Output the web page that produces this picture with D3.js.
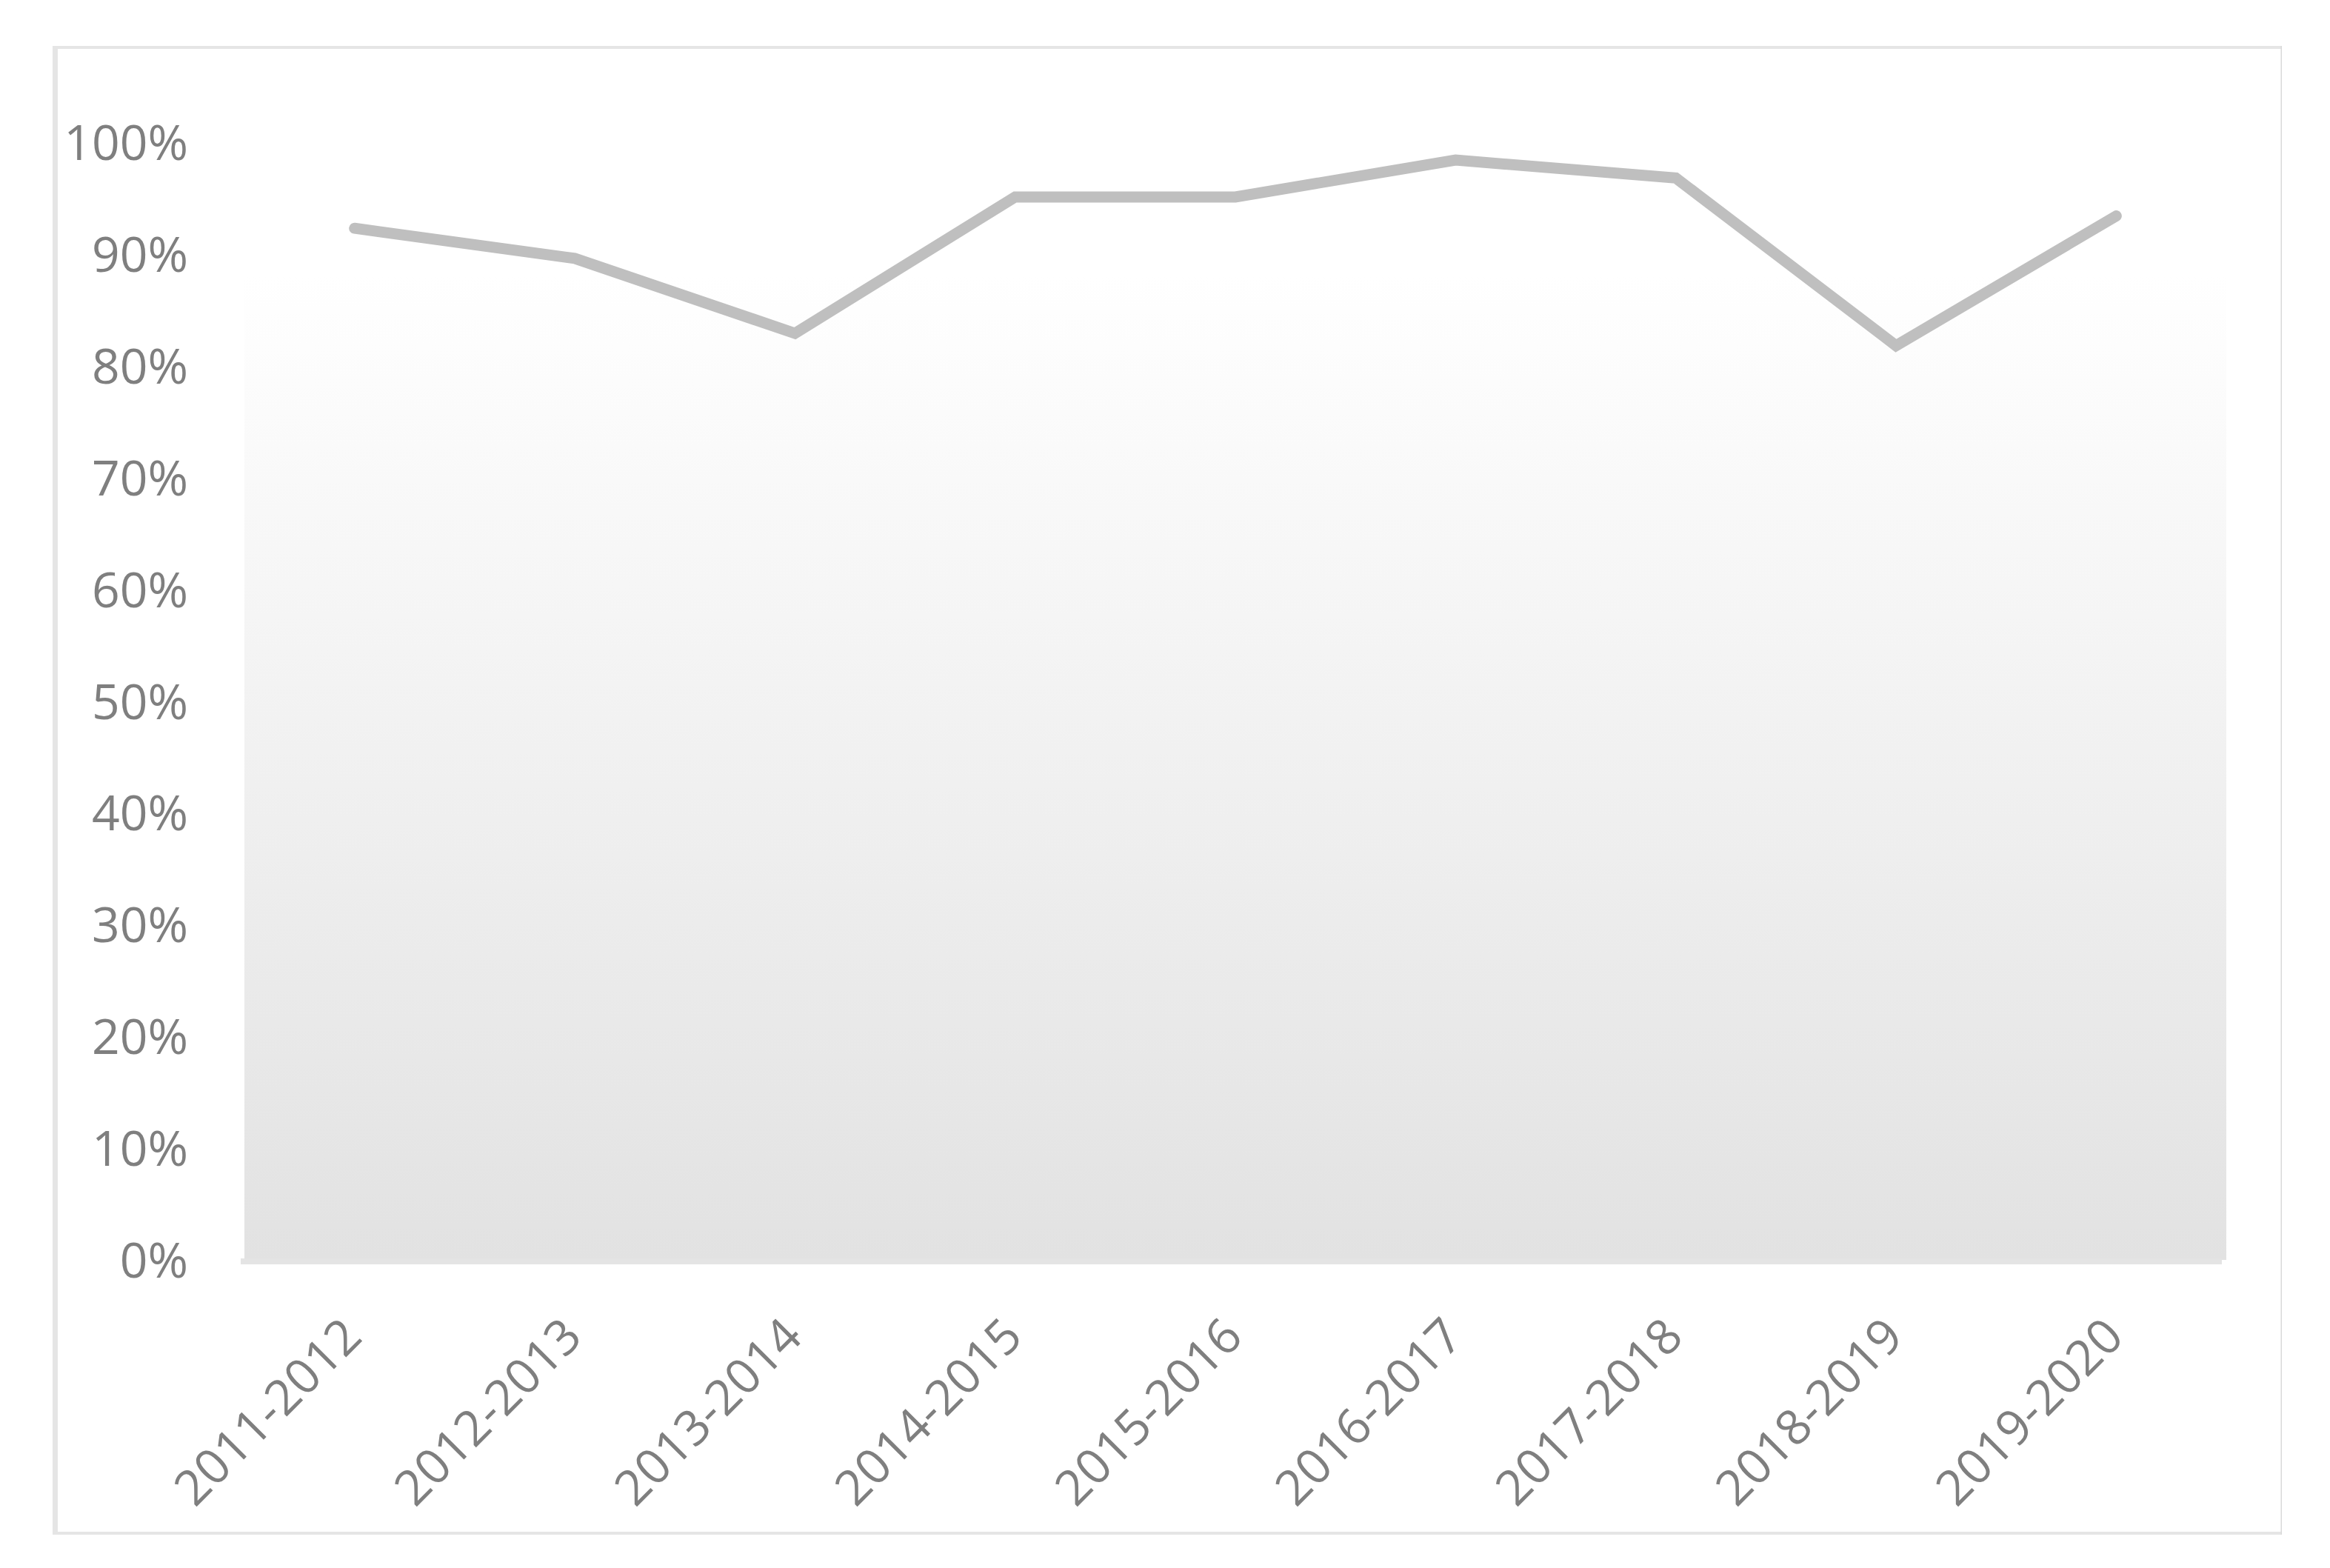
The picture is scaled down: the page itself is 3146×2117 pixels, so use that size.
<!DOCTYPE html>
<html>
<head>
<meta charset="utf-8">
<script src="https://cdn.jsdelivr.net/npm/d3@7"></script>
<style>
  html, body { margin: 0; padding: 0; background: #ffffff; }
  svg { display: block; }
</style>
</head>
<body>
<script>
// ---- data ----
const categories = ["2011-2012", "2012-2013", "2013-2014", "2014-2015", "2015-2016",
                    "2016-2017", "2017-2018", "2018-2019", "2019-2020"];
const values = [0.923, 0.896, 0.829, 0.951, 0.951, 0.984, 0.968, 0.818, 0.934];
const yTicks = [0, 0.1, 0.2, 0.3, 0.4, 0.5, 0.6, 0.7, 0.8, 0.9, 1.0];

// ---- layout ----
const W = 3146, H = 2117;
const plot = { left: 330, right: 3006, top: 192, bottom: 1701 };
const fontFamily = "'Open Sans', 'Noto Sans', sans-serif";
const fontSize = 66;
const textColor = "#7f7f7f";

const svg = d3.select("body").append("svg")
  .attr("width", W).attr("height", H)
  .attr("viewBox", `0 0 ${W} ${H}`);

svg.append("rect").attr("width", W).attr("height", H).attr("fill", "#ffffff");

// chart-area border
const bc = "#e5e5e5";
svg.append("rect").attr("x", 71).attr("y", 62).attr("width", 3081 - 71).attr("height", 4).attr("fill", bc);
svg.append("rect").attr("x", 71).attr("y", 2068).attr("width", 3081 - 71).attr("height", 4).attr("fill", bc);
svg.append("rect").attr("x", 71).attr("y", 62).attr("width", 7).attr("height", 2072 - 62).attr("fill", bc);
svg.append("rect").attr("x", 3079.5).attr("y", 62).attr("width", 1.5).attr("height", 2072 - 62).attr("fill", "#d9d9d9");

// scales
const x = d3.scaleBand().domain(categories).range([plot.left, plot.right]).padding(0);
const y = d3.scaleLinear().domain([0, 1]).range([plot.bottom, plot.top]);

// plot-area gradient
const defs = svg.append("defs");
const grad = defs.append("linearGradient").attr("id", "pa")
  .attr("x1", 0).attr("y1", 0).attr("x2", 0).attr("y2", 1);
grad.append("stop").attr("offset", "0%").attr("stop-color", "#ffffff");
grad.append("stop").attr("offset", "12%").attr("stop-color", "#ffffff");
grad.append("stop").attr("offset", "100%").attr("stop-color", "#e2e2e2");

svg.append("rect")
  .attr("x", plot.left).attr("y", plot.top)
  .attr("width", plot.right - plot.left).attr("height", plot.bottom - plot.top)
  .attr("fill", "url(#pa)");

// x axis line
svg.append("rect")
  .attr("x", plot.left - 5).attr("y", plot.bottom - 2)
  .attr("width", plot.right - plot.left - 1).attr("height", 8)
  .attr("fill", "#e4e4e4");

// y axis labels
const yAxis = d3.axisLeft(y).tickValues(yTicks).tickSize(0).tickPadding(0)
  .tickFormat(d3.format(".0%"));
const gy = svg.append("g").attr("transform", `translate(254,0)`).call(yAxis);
gy.select(".domain").remove();
gy.selectAll("text")
  .attr("x", 0).attr("dy", "0.357em")
  .attr("fill", textColor)
  .style("font-family", fontFamily).style("font-size", fontSize + "px")
  .attr("text-anchor", "end");

// x axis labels
const xAxis = d3.axisBottom(x).tickSize(0).tickPadding(0);
const gx = svg.append("g").attr("transform", `translate(0,${plot.bottom})`).call(xAxis);
gx.select(".domain").remove();
gx.selectAll(".tick text")
  .attr("y", 0).attr("dy", 0)
  .attr("transform", "translate(13,107) rotate(-45)")
  .attr("text-anchor", "end")
  .attr("fill", textColor)
  .style("font-family", fontFamily).style("font-size", fontSize + "px");

// line
const line = d3.line()
  .x((d, i) => x(categories[i]) + x.bandwidth() / 2)
  .y(d => y(d));

svg.append("path")
  .datum(values)
  .attr("d", line)
  .attr("fill", "none")
  .attr("stroke", "#bfbfbf")
  .attr("stroke-width", 15)
  .attr("stroke-linecap", "round")
  .attr("stroke-linejoin", "miter");
</script>
</body>
</html>
